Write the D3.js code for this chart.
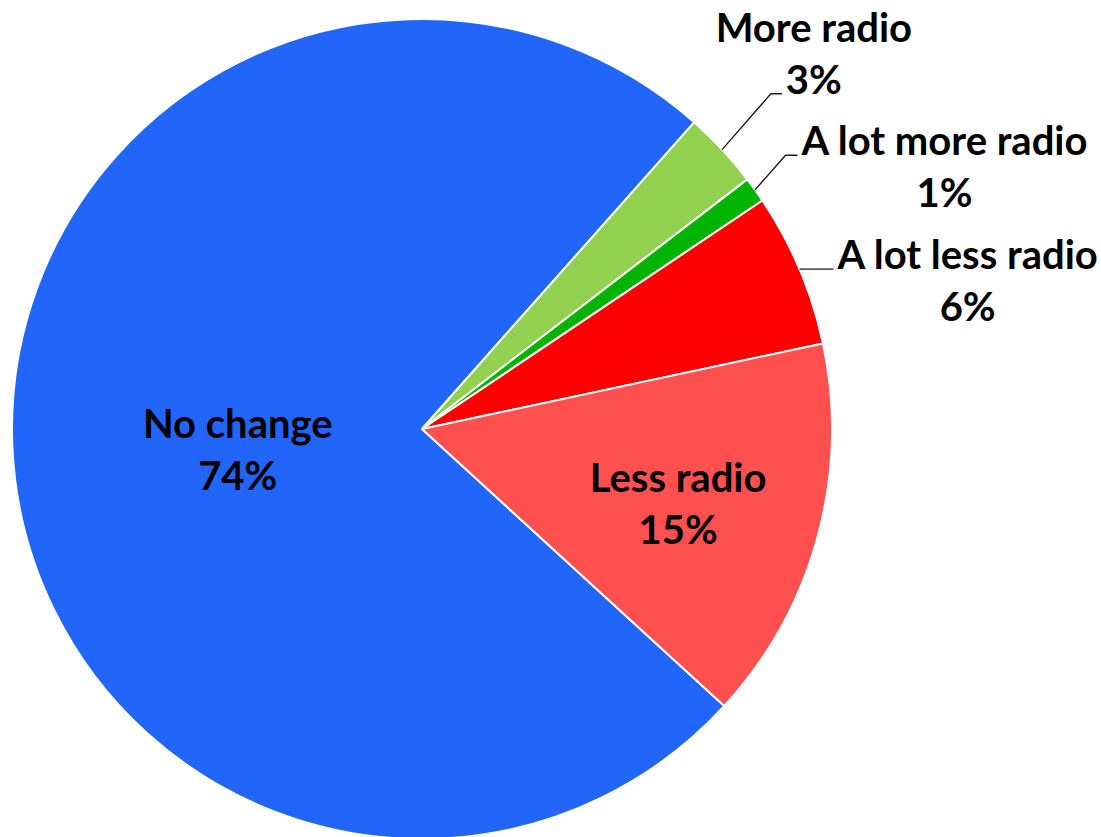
<!DOCTYPE html>
<html>
<head>
<meta charset="utf-8">
<script src="https://cdn.jsdelivr.net/npm/d3@7"></script>
<style>
  body { margin: 0; background: #ffffff; }
  text { font-family: Lato, "Open Sans", sans-serif; font-weight: bold; fill: #000000; }
</style>
</head>
<body>
<div id="container"></div>
<script>
/* CONSTANTS AND GLOBALS */
const width = 1101,
  height = 837;

/* DATA */
const categories = ["No change", "More radio", "A lot more radio", "A lot less radio", "Less radio"];
const values = [74, 3, 1, 6, 15];
const colors = ["#2166f8", "#92d050", "#00b400", "#ff0000", "#ff5050"];

// label placement: inside slices or outside with a leader line
const insideLabels = {
  "No change": { f: 0.45, dx: 0, dy: 12 },
  "Less radio": { f: 0.66, dx: -5, dy: 5 }
};
const outsideLabels = {
  "More radio": { elbowR: 1.18, dA: -0.9, hLen: 11, attach: 1 },
  "A lot more radio": { elbowR: 1.11, dA: -1.3, hLen: 12, attach: 0 },
  "A lot less radio": { elbowR: 1.0, dA: 0, hLen: 34, attach: 0 }
};

const cx = 422, cy = 429, radius = 410;
const fontSize = 40, lineGap = 52;

const data = categories.map((c, i) => ({ name: c, value: values[i], color: colors[i] }));

const svg = d3.select("#container")
  .append("svg")
  .attr("width", width)
  .attr("height", height);

const g = svg.append("g").attr("transform", `translate(${cx},${cy})`);

/* PIE */
const rad = deg => deg * Math.PI / 180;
const start = rad(132.5);
const pie = d3.pie()
  .sort(null)
  .value(d => d.value)
  .startAngle(start)
  .endAngle(start + 2 * Math.PI);

const arc = d3.arc().innerRadius(0).outerRadius(radius);
const arcs = pie(data);

g.selectAll("path.slice")
  .data(arcs)
  .join("path")
  .attr("class", "slice")
  .attr("d", arc)
  .attr("fill", d => d.data.color)
  .attr("stroke", "#ffffff")
  .attr("stroke-width", 2)
  .attr("stroke-linejoin", "round");

const pct = d => d3.format(".0f")(d.data.value) + "%";
const polar = (a, r) => [r * Math.sin(a), -r * Math.cos(a)];

/* INSIDE LABELS */
arcs.filter(d => insideLabels[d.data.name]).forEach(d => {
  const o = insideLabels[d.data.name];
  const mid = (d.startAngle + d.endAngle) / 2;
  const [x0, y0] = polar(mid, radius * o.f);
  const x = x0 + o.dx, y = y0 - 13 + o.dy;
  const t = g.append("text")
    .attr("text-anchor", "middle")
    .attr("font-size", fontSize);
  t.append("tspan").attr("x", x).attr("y", y).text(d.data.name);
  t.append("tspan").attr("x", x).attr("y", y + lineGap).text(pct(d));
});

/* OUTSIDE LABELS WITH LEADERS */
arcs.filter(d => outsideLabels[d.data.name]).forEach(d => {
  const o = outsideLabels[d.data.name];
  const mid = (d.startAngle + d.endAngle) / 2;
  const p0 = polar(mid, radius);
  const p1 = o.elbowR === 1 ? p0 : polar(mid + rad(o.dA), radius * o.elbowR);
  const p2 = [p1[0] + o.hLen, p1[1]];

  g.append("path")
    .attr("d", d3.line()([p0, p1, p2]))
    .attr("fill", "none")
    .attr("stroke", "#1a1a1a")
    .attr("stroke-width", 1.4);

  const lines = [d.data.name, pct(d)];
  const t = g.append("text")
    .attr("text-anchor", "middle")
    .attr("font-size", fontSize);
  const spans = lines.map((s, i) => t.append("tspan")
    .attr("y", p2[1] + (i - o.attach) * lineGap)
    .text(s));
  const w = spans[o.attach].node().getComputedTextLength();
  const x = p2[0] + 4 + w / 2;
  spans.forEach(s => s.attr("x", x));
});
</script>
</body>
</html>
